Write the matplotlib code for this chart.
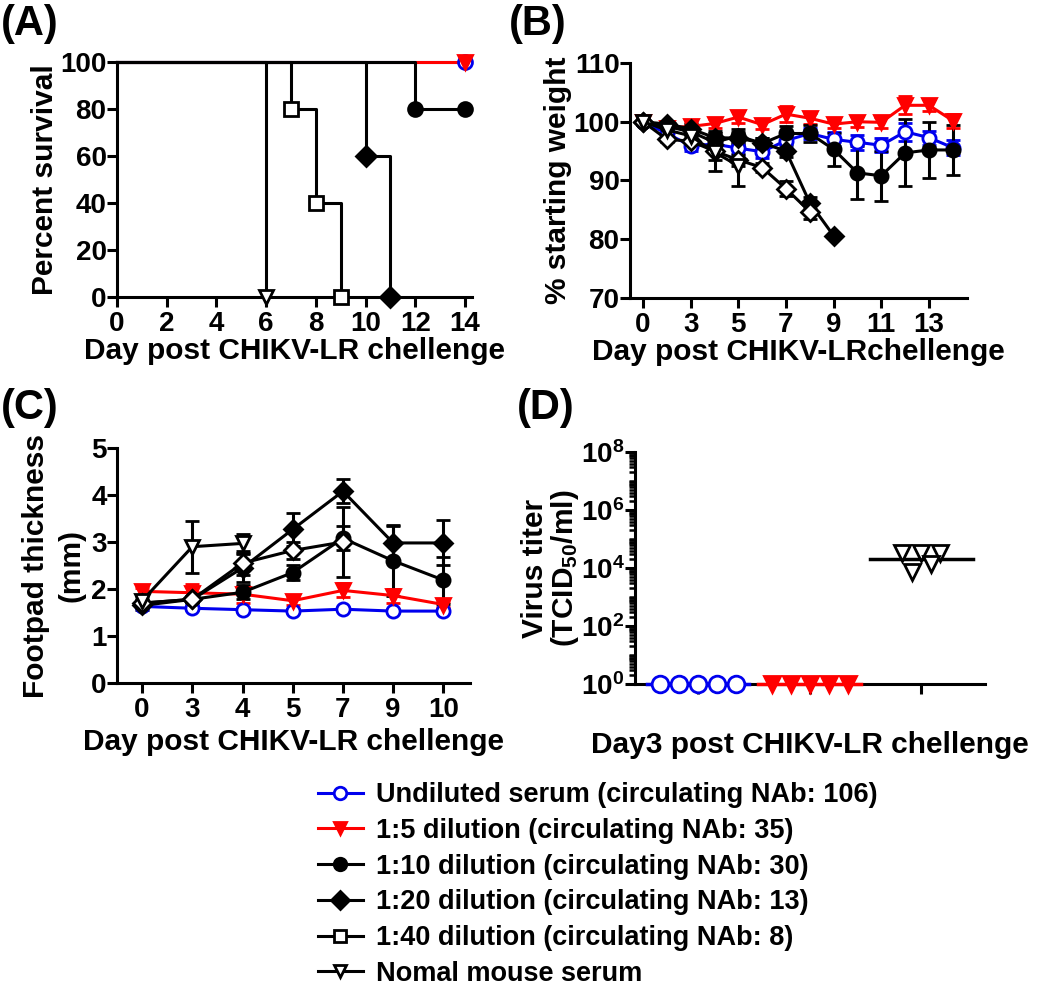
import numpy as np
import matplotlib.pyplot as plt
from matplotlib.lines import Line2D
from matplotlib.ticker import FixedLocator, LogLocator, NullFormatter

plt.rcParams['font.family'] = ['Liberation Sans', 'DejaVu Sans']
plt.rcParams['font.weight'] = 'bold'
plt.rcParams['axes.labelweight'] = 'bold'
plt.rcParams['mathtext.fontset'] = 'custom'
plt.rcParams['mathtext.rm'] = 'Liberation Sans:bold'
plt.rcParams['mathtext.it'] = 'Liberation Sans:bold'
plt.rcParams['mathtext.bf'] = 'Liberation Sans:bold'

BLUE = '#0000ee'
RED = '#ff0000'

group_names = ['Undiluted serum (circulating NAb: 106)',
               '1:5 dilution (circulating NAb: 35)',
               '1:10 dilution (circulating NAb: 30)',
               '1:20 dilution (circulating NAb: 13)',
               '1:40 dilution (circulating NAb: 8)',
               'Nomal mouse serum']

# (A) survival: event days and percent alive
surv_days = [[0, 14], [0, 14], [0, 12, 14], [0, 10, 11], [0, 7, 8, 9], [0, 6]]
surv_pct = [[100, 100], [100, 100], [100, 80, 80], [100, 60, 0],
            [100, 80, 40, 0], [100, 0]]

# (B) body weight, % of starting weight
weight_days = [0, 2, 3, 4, 5, 6, 7, 8, 9, 10, 11, 12, 13, 14]
weight_mean = [
    [100, 98.0, 95.9, 96.2, 95.5, 94.9, 96.8, 98.0, 97.0, 96.5, 96.0, 98.3, 97.3, 95.6],
    [100, 99.0, 99.2, 99.7, 100.8, 99.5, 101.3, 100.6, 99.6, 100.0, 99.9, 102.8, 102.8, 100.2],
    [100, 99.2, 98.3, 96.5, 97.6, 96.3, 98.0, 98.0, 95.3, 91.3, 90.8, 94.7, 95.2, 95.2],
    [100, 99.6, 98.8, 97.3, 97.2, 96.4, 95.0, 86.2, 80.6],
    [100, 97.0, 96.7, 95.0, 93.5, 92.2, 88.6, 84.7],
    [100, 98.6, 97.6, 94.8, 92.5],
]
weight_err = [
    [0.5, 0.8, 0.8, 1.0, 1.2, 1.0, 1.2, 1.0, 1.2, 1.3, 1.2, 1.5, 1.2, 1.3],
    [0.3, 0.5, 0.6, 0.8, 1.0, 0.8, 1.3, 0.9, 0.7, 0.9, 0.9, 1.5, 1.0, 1.2],
    [0.3, 0.6, 1.0, 1.5, 1.2, 1.0, 1.2, 1.5, 2.8, 4.5, 4.3, 5.7, 4.7, 4.2],
    [0.3, 0.5, 0.8, 1.2, 1.0, 0.8, 1.0, 1.0, 0.0],
    [0.3, 0.5, 1.0, 1.5, 1.0, 0.8, 1.3, 1.2],
    [0.3, 0.6, 1.0, 3.2, 3.4],
]

# (C) footpad thickness (mm)
foot_days = [0, 3, 4, 5, 7, 9, 10]
foot_mean = [
    [1.63, 1.59, 1.56, 1.53, 1.57, 1.53, 1.53],
    [1.95, 1.92, 1.89, 1.75, 1.97, 1.86, 1.67],
    [1.70, 1.78, 1.93, 2.35, 3.08, 2.60, 2.19],
    [1.65, 1.78, 2.45, 3.27, 4.08, 2.98, 2.98],
    [1.70, 1.78, 2.55, 2.82, 3.00],
    [1.75, 2.90, 2.97],
]
foot_err = [
    [0.04, 0.04, 0.04, 0.04, 0.04, 0.04, 0.04],
    [0.08, 0.18, 0.18, 0.08, 0.15, 0.15, 0.06],
    [0.08, 0.05, 0.15, 0.15, 0.25, 0.75, 0.50],
    [0.10, 0.08, 0.30, 0.35, 0.25, 0.38, 0.48],
    [0.05, 0.05, 0.25, 0.18, 0.75],
    [0.10, 0.55, 0.20],
]

# (D) day 3 virus titer (TCID50/ml)
titer_groups = [0, 1, 5]
titer_values = [
    [1, 1, 1, 1, 1],
    [1, 1, 1, 1, 1],
    [3.2e4, 3.2e4, 7.0e3, 3.2e4, 1.4e4],
]

# marker styles per group (A uses a square for 1:40)
colors = [BLUE, RED, 'k', 'k', 'k', 'k']
markers = ['o', 'v', 'o', 'D', 'D', 'v']
faces = ['white', RED, 'k', 'k', 'white', 'white']
markers_a = ['o', 'v', 'o', 'D', 's', 'v']

W, H = 1050, 988
fig = plt.figure(figsize=(W / 100, H / 100), dpi=100)
TICK_FS = 20
LAB_FS = 21.5


def px_axes(left, top, right, bottom):
    return fig.add_axes([left / W, 1 - bottom / H, (right - left) / W, (bottom - top) / H])


def style(ax):
    for s in ['top', 'right']:
        ax.spines[s].set_visible(False)
    for s in ['left', 'bottom']:
        ax.spines[s].set_linewidth(2.2)
    ax.tick_params(direction='out', length=7, width=2.2, labelsize=TICK_FS)
    ax.tick_params(axis='x', pad=3)
    ax.tick_params(axis='y', pad=0.5)
    for lab in ax.get_xticklabels() + ax.get_yticklabels():
        lab.set_fontweight('bold')


def swarm_offsets(values, tol=0.34):
    # group close values into rows, spread each row around the centre
    logv = np.log10(values)
    rows = []
    for i in np.argsort(-logv, kind='stable'):
        if rows and rows[-1][0] - logv[i] <= tol:
            rows[-1][1].append(i)
        else:
            rows.append([logv[i], [i]])
    offs = np.zeros(len(values))
    for _, idx in rows:
        idx = sorted(idx, key=lambda k: logv[k])
        for j, k in enumerate(idx):
            offs[k] = j - (len(idx) - 1) / 2
    return offs


# ---- (A) survival
ax = px_axes(117, 62, 472, 297)
for i in range(len(group_names)):
    d, p = surv_days[i], surv_pct[i]
    ax.plot(d, p, drawstyle='steps-post', color=colors[i], lw=2.2, clip_on=False, zorder=3)
    ax.plot(d[1:], p[1:], ls='none', marker=markers_a[i], ms=10, mfc=faces[i],
            mec=colors[i], mew=2, clip_on=False, zorder=4)
ax.set_xlim(0, 14.28)
ax.set_ylim(0, 100)
ax.set_xticks(range(0, 15, 2))
ax.set_yticks(range(0, 101, 20))
style(ax)
ax.set_xlabel('Day post CHIKV-LR chellenge', fontsize=LAB_FS, labelpad=0)
ax.set_ylabel('Percent survival', fontsize=LAB_FS, labelpad=1)

# ---- (B) weight
ax = px_axes(630, 63, 967, 298)
for i in range(len(group_names)):
    y = weight_mean[i]
    x = np.arange(len(y))
    ax.errorbar(x, y, yerr=weight_err[i], color=colors[i], marker=markers[i], ms=9.5,
                mfc=faces[i], mec=colors[i], mew=2, lw=2.2, elinewidth=2.2,
                capsize=5, capthick=2.2, clip_on=False, zorder=3)
ax.set_xlim(-0.55, 13.6)
ax.set_ylim(70, 110)
ax.set_xticks(np.arange(len(weight_days))[::2])
ax.set_xticklabels([str(d) for d in weight_days[::2]])
ax.set_yticks(range(70, 111, 10))
style(ax)
ax.set_xlabel('Day post CHIKV-LRchellenge', fontsize=LAB_FS, labelpad=0)
ax.set_ylabel('% starting weight', fontsize=LAB_FS, labelpad=1)

# ---- (C) footpad
ax = px_axes(117, 448, 470, 683)
for i in range(len(group_names)):
    y = foot_mean[i]
    x = np.arange(len(y))
    ax.errorbar(x, y, yerr=foot_err[i], color=colors[i], marker=markers[i], ms=9.5,
                mfc=faces[i], mec=colors[i], mew=2, lw=2.2, elinewidth=2.2,
                capsize=5, capthick=2.2, clip_on=False, zorder=3)
ax.set_xlim(-0.5, 6.53)
ax.set_ylim(0, 5)
ax.set_xticks(np.arange(len(foot_days)))
ax.set_xticklabels([str(d) for d in foot_days])
ax.set_yticks(range(0, 6))
style(ax)
ax.set_xlabel('Day post CHIKV-LR chellenge', fontsize=LAB_FS, labelpad=4)
ax.set_ylabel('Footpad thickness\n(mm)', fontsize=LAB_FS, labelpad=4, linespacing=1.35)

# ---- (D) virus titer
ax = px_axes(635, 452, 985, 684)
ax.set_yscale('log')
for j, g in enumerate(titer_groups):
    vals = np.array(titer_values[j], dtype=float)
    xs = j + 1 + 0.17 * swarm_offsets(vals)
    gm = 10 ** np.mean(np.log10(vals))
    ax.plot([j + 1 - 0.46, j + 1 + 0.46], [gm, gm], color=colors[g], lw=2.5,
            clip_on=False, zorder=4)
    ax.plot(xs, vals, ls='none', marker=markers[g], ms=12, mfc=faces[g],
            mec=colors[g], mew=2, clip_on=False, zorder=5)
ax.set_xlim(0.435, 3.57)
ax.set_ylim(1, 1e8)
ax.yaxis.set_major_locator(FixedLocator([1, 1e2, 1e4, 1e6, 1e8]))
ax.set_yticklabels([r'$10^{%d}$' % e for e in range(0, 9, 2)])
ax.yaxis.set_minor_locator(LogLocator(base=10, subs=np.arange(1, 10), numticks=100))
ax.yaxis.set_minor_formatter(NullFormatter())
ax.set_xticks([1, 2, 3])
ax.set_xticklabels([])
style(ax)
ax.tick_params(axis='y', which='minor', length=4.5, width=1.8)
ax.set_xlabel('Day3 post CHIKV-LR chellenge', fontsize=LAB_FS, labelpad=24)
ax.set_ylabel('Virus titer\n(TCID$_{50}$/ml)', fontsize=LAB_FS, labelpad=0, linespacing=1.0)

# ---- panel letters
for lab, (x, y) in zip(['(A)', '(B)', '(C)', '(D)'],
                       [(1, 4), (509, 4), (1, 388), (517, 388)]):
    fig.text(x / W, 1 - y / H, lab, fontsize=30, fontweight='bold', ha='left', va='top')

# ---- legend
handles = [Line2D([], [], color=colors[i], marker=markers_a[i], ms=9, mfc=faces[i],
                  mec=colors[i], mew=2, lw=2.2) for i in range(len(group_names))]
fig.legend(handles, group_names, loc='upper left', bbox_to_anchor=(318 / W, 1 - 782 / H),
           frameon=False, prop={'size': 19.5, 'weight': 'bold'}, handlelength=1.65,
           handletextpad=0.48, labelspacing=0.36, borderaxespad=0, borderpad=0)

fig.savefig('out.png', dpi=100)
